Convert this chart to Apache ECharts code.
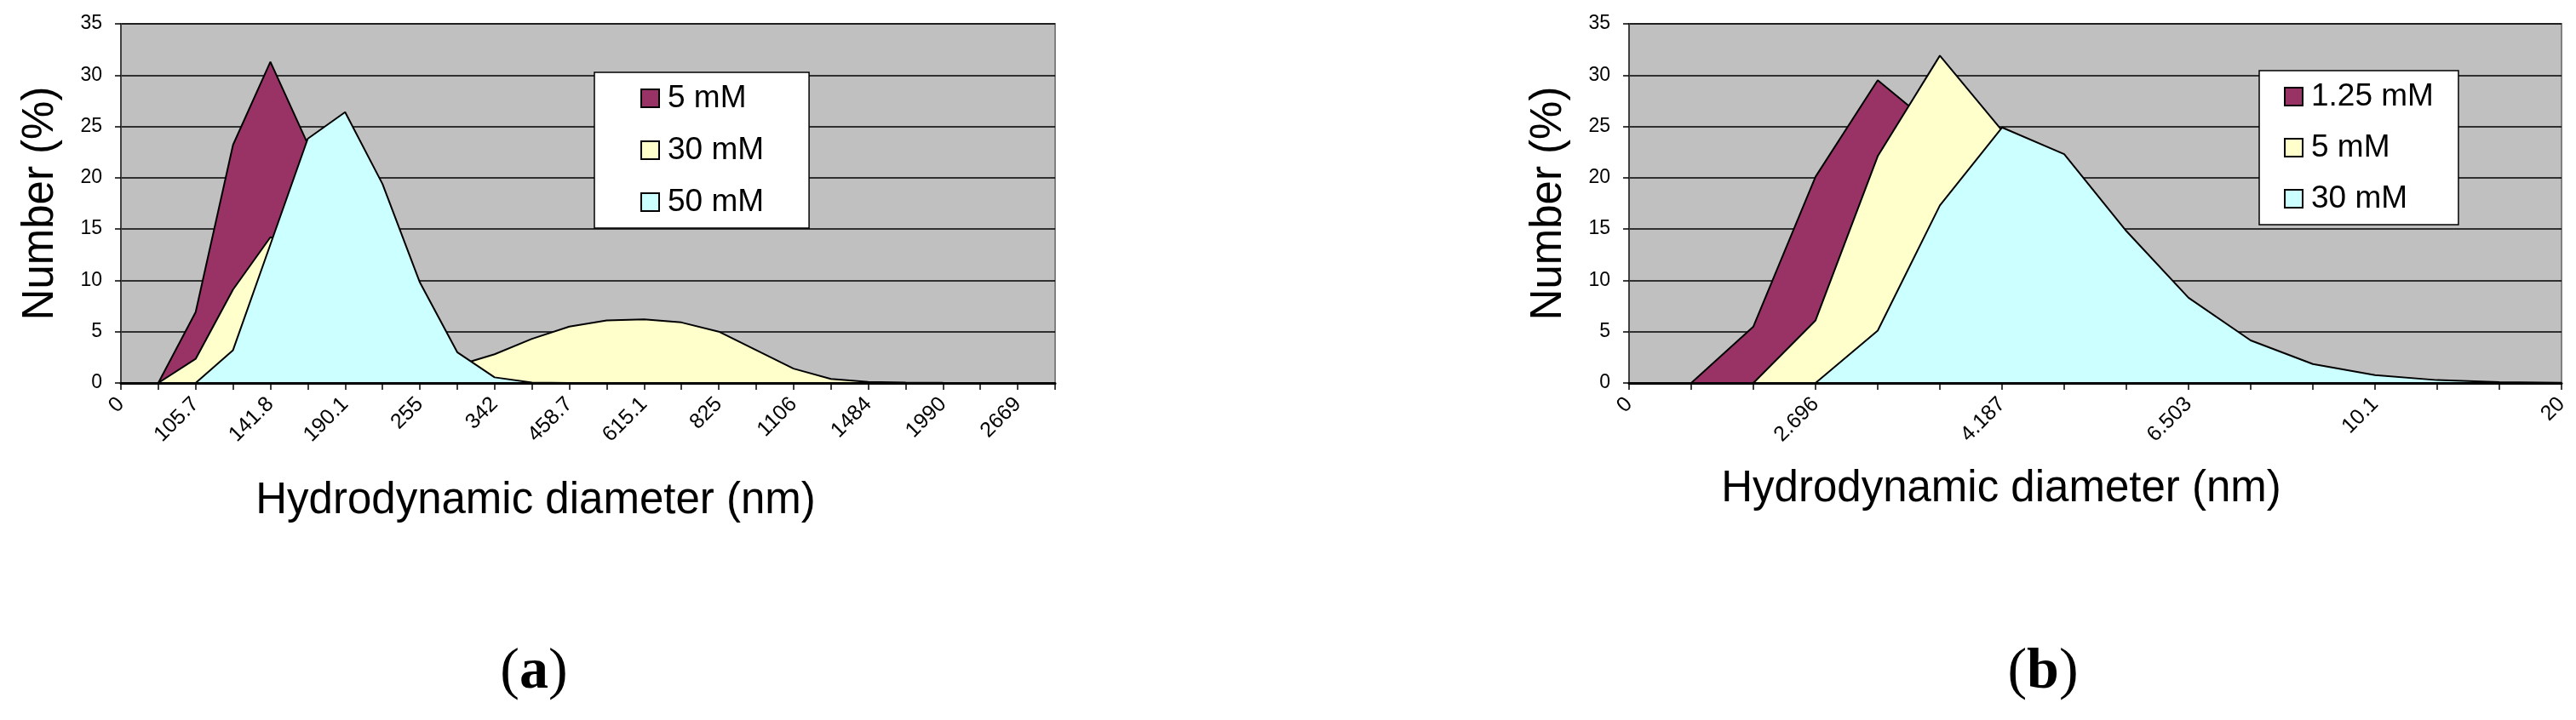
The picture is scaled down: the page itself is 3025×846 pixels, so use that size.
<!DOCTYPE html>
<html>
<head>
<meta charset="utf-8">
<script src="https://cdn.jsdelivr.net/npm/echarts@6/dist/echarts.min.js"></script>
<style>
  html, body { margin: 0; padding: 0; background: #fff; }
  #chart { width: 3025px; height: 846px; }
</style>
</head>
<body>
<div id="chart"></div>
<script>
// (a) size classes (nm), only every other one is labelled
const sizesA = ['0', '91.28', '105.7', '122.4', '141.8', '164.2', '190.1', '220.2', '255', '295.3',
  '342', '396.1', '458.7', '531.2', '615.1', '712.4', '825', '955.4', '1106', '1281',
  '1484', '1718', '1990', '2305', '2669', '3091']
const numA5 = [0, 0, 6.9, 23.2, 31.3, 23.3, 9, 2, 0.3, 0, 0, 0, 0, 0, 0, 0, 0, 0, 0, 0, 0, 0, 0, 0, 0, 0]
const numA30 = [0, 0, 2.35, 9.1, 14.2, 13, 8, 4, 2, 1.7, 2.8, 4.3, 5.5, 6.1, 6.2, 5.9, 5.0, 3.2, 1.4, 0.4,
  0.1, 0.05, 0.02, 0.01, 0, 0]
const numA50 = [0, 0, 0, 3.2, 13.5, 23.8, 26.4, 19.4, 9.8, 3.0, 0.55, 0.05, 0, 0, 0, 0, 0, 0, 0, 0,
  0, 0, 0, 0, 0, 0]
const namesA = ['5 mM', '30 mM', '50 mM']

// (b) size classes (nm), every third one labelled
const sizesB = ['0', '2.01', '2.328', '2.696', '3.122', '3.615', '4.187', '4.849', '5.615', '6.503',
  '7.531', '8.721', '10.1', '11.7', '13.54', '20']
const numB125 = [0, 0, 5.5, 20.1, 29.5, 24.5, 10, 2, 0.3, 0, 0, 0, 0, 0, 0, 0]
const numB5 = [0, 0, 0, 6.1, 22.1, 31.9, 24.6, 12, 3, 0.5, 0, 0, 0, 0, 0, 0]
const numB30 = [0, 0, 0, 0, 5.1, 17.3, 24.9, 22.3, 14.8, 8.3, 4.15, 1.85, 0.77, 0.28, 0.08, 0.02]
const namesB = ['1.25 mM', '5 mM', '30 mM']

const fills = ['#993366', '#FFFFCC', '#CCFFFF']
const font = '"Liberation Sans", Arial, sans-serif'
const serif = '"Liberation Serif", "Times New Roman", serif'

const chart = echarts.init(document.getElementById('chart'))

const makeX = (gridIndex, data, every) => ({
  type: 'category',
  gridIndex,
  data,
  boundaryGap: false,
  axisLine: { lineStyle: { color: '#000', width: 3 } },
  axisTick: { interval: 0, length: 8, lineStyle: { color: '#000', width: 1.5 } },
  axisLabel: { interval: every, rotate: 45, fontSize: 25, color: '#000', fontFamily: font, margin: 21 },
  splitLine: { show: false },
  z: 10
})

const makeY = (gridIndex) => ({
  type: 'value',
  gridIndex,
  min: 0,
  max: 35,
  interval: 5,
  name: 'Number (%)',
  nameLocation: 'middle',
  nameRotate: 90,
  nameGap: 69,
  nameTextStyle: { fontSize: 51, color: '#000', fontFamily: font },
  axisLine: { show: true, lineStyle: { color: '#404040', width: 2 } },
  axisTick: { show: true, length: 7, lineStyle: { color: '#000', width: 1.5 } },
  axisLabel: { fontSize: 23, color: '#000', fontFamily: font, margin: 22 },
  splitLine: { lineStyle: { color: '#000', width: 1.5 } }
})

// later series sit in front, so each one gets its own z
const makeSeries = (name, data, i, axisIndex) => ({
  name,
  type: 'line',
  xAxisIndex: axisIndex,
  yAxisIndex: axisIndex,
  data,
  z: 2 + i,
  showSymbol: false,
  symbol: 'none',
  itemStyle: { color: fills[i] },
  lineStyle: { color: '#000', width: 2 },
  areaStyle: { color: fills[i], opacity: 1 },
  animation: false
})

const makeLegend = (names, left, top, padding, gap) => ({
  orient: 'vertical',
  left,
  top,
  z: 20,
  selectedMode: false,
  icon: 'rect',
  itemWidth: 21,
  itemHeight: 21,
  itemGap: gap,
  padding,
  backgroundColor: '#fff',
  borderColor: '#000',
  borderWidth: 1.5,
  itemStyle: { borderColor: '#000', borderWidth: 2 },
  textStyle: { fontSize: 37, color: '#000', fontFamily: font, padding: [0, 0, 0, 5] },
  data: names.map((n, i) => ({ name: n, itemStyle: { color: fills[i], borderColor: '#000', borderWidth: 2 } }))
})

const text = (str, x, y, size) => ({
  type: 'text',
  x,
  y,
  style: { text: str, fontSize: size, fontFamily: font, fill: '#000', align: 'center', verticalAlign: 'middle' }
})

const panelTag = (letter, x, y) => ({
  type: 'text',
  x,
  y,
  style: {
    text: '{p|(}{q|' + letter + '}{p|)}',
    align: 'center',
    verticalAlign: 'middle',
    rich: {
      p: { fontSize: 68, fontFamily: serif, fill: '#000' },
      q: { fontSize: 68, fontFamily: serif, fontWeight: 'bold', fill: '#000' }
    }
  }
})

chart.setOption({
  animation: false,
  backgroundColor: '#fff',
  grid: [
    { left: 142, top: 28, width: 1097, height: 422, show: true, backgroundColor: '#C0C0C0', borderColor: '#808080', borderWidth: 2 },
    { left: 1913, top: 28, width: 1095, height: 422, show: true, backgroundColor: '#C0C0C0', borderColor: '#808080', borderWidth: 2 }
  ],
  xAxis: [makeX(0, sizesA, 1), makeX(1, sizesB, 2)],
  yAxis: [makeY(0), makeY(1)],
  legend: [
    makeLegend(namesA, 698, 85, [12, 53, 12, 54], 24),
    makeLegend(namesB, 2653, 83, [12, 29, 12, 29], 23)
  ],
  series: [
    makeSeries(namesA[0], numA5, 0, 0),
    makeSeries(namesA[1], numA30, 1, 0),
    makeSeries(namesA[2], numA50, 2, 0),
    makeSeries(namesB[0], numB125, 0, 1),
    makeSeries(namesB[1], numB5, 1, 1),
    makeSeries(namesB[2], numB30, 2, 1)
  ],
  graphic: [
    text('Hydrodynamic diameter (nm)', 629, 589, 51),
    text('Hydrodynamic diameter (nm)', 2350, 575, 51),
    panelTag('a', 627, 790),
    panelTag('b', 2399, 790)
  ]
})
</script>
</body>
</html>
